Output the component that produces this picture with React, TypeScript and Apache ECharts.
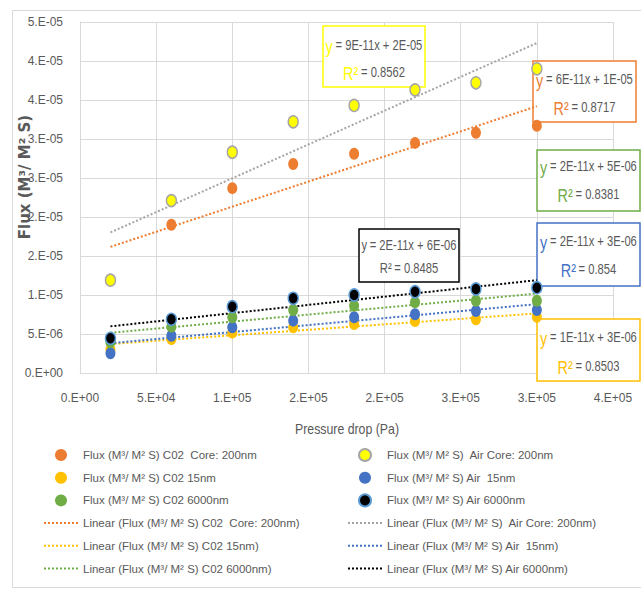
import React, { useEffect, useRef } from "react";
import * as echarts from "echarts";

const FONT = "'Liberation Sans', sans-serif";
const GRAY = "#595959";

const pressure = [20000, 60000, 100000, 140000, 180000, 220000, 260000, 300000];
const co2Core200 = [1.19e-5, 1.9e-5, 2.37e-5, 2.68e-5, 2.81e-5, 2.95e-5, 3.08e-5, 3.17e-5];
const airCore200 = [1.19e-5, 2.21e-5, 2.83e-5, 3.22e-5, 3.43e-5, 3.63e-5, 3.72e-5, 3.9e-5];
const co2_15 = [3.0e-6, 4.36e-6, 5.17e-6, 5.86e-6, 6.28e-6, 6.67e-6, 6.88e-6, 7.22e-6];
const air_15 = [2.53e-6, 4.78e-6, 5.86e-6, 6.71e-6, 7.14e-6, 7.53e-6, 7.95e-6, 8.08e-6];
const co2_6000 = [3.94e-6, 5.94e-6, 7.14e-6, 8.08e-6, 8.63e-6, 9.06e-6, 9.27e-6, 9.27e-6];
const air_6000 = [4.45e-6, 6.88e-6, 8.5e-6, 9.58e-6, 1.0e-5, 1.042e-5, 1.077e-5, 1.094e-5];

const xTickLabels = ["0.E+00", "5.E+04", "1.E+05", "2.E+05", "2.E+05", "3.E+05", "3.E+05", "4.E+05"];
const yTickLabels = ["0.E+00", "5.E-06", "1.E-05", "2.E-05", "2.E-05", "3.E-05", "3.E-05", "4.E-05", "4.E-05", "5.E-05"];

const seriesNames = [
  "Flux (M³/ M² S) C02  Core: 200nm",
  "Flux (M³/ M² S)  Air Core: 200nm",
  "Flux (M³/ M² S) C02 15nm",
  "Flux (M³/ M² S) Air  15nm",
  "Flux (M³/ M² S) C02 6000nm",
  "Flux (M³/ M² S) Air 6000nm",
];
const seriesValues = [co2Core200, airCore200, co2_15, air_15, co2_6000, air_6000];
const pointColors = ["#ED7D31", "#FFFF00", "#FFC000", "#4472C4", "#70AD47", "#000000"];
const pointBorders = ["none", "#A5A5A5", "none", "none", "none", "#5B9BD5"];
const trendColors = ["#ED7D31", "#A5A5A5", "#FFC000", "#4472C4", "#70AD47", "#000000"];

const equations = [
  { eq: "= 6E-11x + 1E-05", r2: "= 0.8717", color: "#ED7D31", border: "#ED7D31" },
  { eq: "= 9E-11x + 2E-05", r2: "= 0.8562", color: "#FFFF00", border: "#FFFF00" },
  { eq: "= 1E-11x + 3E-06", r2: "= 0.8503", color: "#FFC000", border: "#FFC000" },
  { eq: "= 2E-11x + 3E-06", r2: "= 0.854", color: "#4472C4", border: "#4472C4" },
  { eq: "= 2E-11x + 5E-06", r2: "= 0.8381", color: "#70AD47", border: "#70AD47" },
  { eq: "= 2E-11x + 6E-06", r2: "= 0.8485", color: GRAY, border: "#000000" },
];

function fit(xs: number[], ys: number[]) {
  const n = xs.length;
  const mx = xs.reduce((a, b) => a + b, 0) / n;
  const my = ys.reduce((a, b) => a + b, 0) / n;
  let sxy = 0, sxx = 0;
  for (let i = 0; i < n; i++) {
    sxy += (xs[i] - mx) * (ys[i] - my);
    sxx += (xs[i] - mx) * (xs[i] - mx);
  }
  const b = sxy / sxx;
  return { a: my - b * mx, b };
}

export default function App() {
  const ref = useRef<HTMLDivElement>(null);
  useEffect(() => {
    if (!ref.current) return;
    const chart = echarts.init(ref.current, undefined, { renderer: "svg" });

    const scatterSeries = seriesNames.map((name, i) => ({
      name,
      type: "scatter",
      data: pressure.map((x, j) => [x, seriesValues[i][j]]),
      symbol: "circle",
      symbolSize: [10, 12],
      itemStyle: {
        color: pointColors[i],
        opacity: 1,
        borderColor: pointBorders[i] === "none" ? undefined : pointBorders[i],
        borderWidth: pointBorders[i] === "none" ? 0 : 1.5,
      },
      z: 3,
    }));

    const trendSeries = seriesNames.map((name, i) => {
      const { a, b } = fit(pressure, seriesValues[i]);
      const x0 = pressure[0];
      const x1 = pressure[pressure.length - 1];
      return {
        name: `Linear (${name})`,
        type: "line",
        data: [
          [x0, a + b * x0],
          [x1, a + b * x1],
        ],
        symbol: "none",
        showSymbol: false,
        lineStyle: { color: trendColors[i], width: 2, type: [2, 2] },
        itemStyle: { color: trendColors[i], opacity: 0 },
        z: 2,
      };
    });

    const boxes = [
      { x: 533, y: 61, w: 103, h: 61, l1: 80, l2: 108 },
      { x: 323, y: 26, w: 102, h: 61, l1: 46, l2: 73 },
      { x: 537, y: 319, w: 103, h: 62, l1: 338, l2: 367 },
      { x: 537, y: 223, w: 103, h: 63, l1: 242, l2: 270 },
      { x: 537, y: 150, w: 103, h: 61, l1: 167, l2: 195 },
      { x: 359, y: 229, w: 100, h: 53, l1: 246, l2: 269 },
    ];

    const graphics: any[] = [
      {
        type: "rect",
        shape: { x: 12.5, y: 10.5, width: 640, height: 577 },
        style: { fill: "none", stroke: "#D9D9D9", lineWidth: 1 },
        z: 0,
      },
      {
        type: "text",
        x: 25,
        y: 177,
        rotation: Math.PI / 2,
        style: {
          text: "Flux (M³/ M² S)",
          fill: GRAY,
          fontSize: 15,
          fontWeight: "bold",
          fontFamily: "'DejaVu Sans', sans-serif",
          align: "center",
          verticalAlign: "middle",
        },
      },
      {
        type: "text",
        x: 347,
        y: 429,
        scaleX: 0.88,
        style: {
          text: "Pressure drop (Pa)",
          fill: GRAY,
          fontSize: 14,
          fontFamily: FONT,
          align: "center",
          verticalAlign: "middle",
        },
      },
    ];

    boxes.forEach((bx, i) => {
      const e = equations[i];
      const big = i === 5 ? 14 : 18;
      graphics.push({
        type: "rect",
        shape: { x: bx.x, y: bx.y, width: bx.w, height: bx.h },
        style: { fill: "#FFFFFF", stroke: e.border, lineWidth: 1.5 },
        z: 1,
      });
      [
        { t: `{c|y} {t|${e.eq}}`, y: bx.l1 },
        { t: `{c|R²} {t|${e.r2}}`, y: bx.l2 },
      ].forEach((ln) => {
        graphics.push({
          type: "text",
          x: bx.x + bx.w / 2,
          y: ln.y,
          scaleX: 0.8,
          z: 1,
          style: {
            text: ln.t,
            align: "center",
            verticalAlign: "middle",
            rich: {
              c: { fill: e.color, fontSize: big, fontFamily: FONT },
              t: { fill: GRAY, fontSize: 14, fontFamily: FONT },
            },
          },
        });
      });
    });

    const legendCommon = {
      orient: "vertical",
      top: 443,
      itemWidth: 34,
      itemHeight: 12,
      itemGap: 8.7,
      textStyle: { color: GRAY, fontSize: 11.5, fontFamily: FONT, lineHeight: 14 },
      selectedMode: false,
    };

    const leftIdx = [0, 2, 4];
    const rightIdx = [1, 3, 5];

    chart.setOption({
      animation: false,
      backgroundColor: "#FFFFFF",
      grid: { left: 80, right: 28, top: 22, bottom: 217 },
      xAxis: {
        type: "value",
        min: 0,
        max: 350000,
        interval: 50000,
        axisLine: { show: true, lineStyle: { color: "#D9D9D9", width: 1 } },
        axisTick: { show: false },
        splitLine: { show: true, lineStyle: { color: "#D9D9D9", width: 1 } },
        axisLabel: {
          color: GRAY,
          fontSize: 12,
          fontFamily: FONT,
          margin: 19,
          formatter: (v: number) => xTickLabels[Math.round(v / 50000)] ?? "",
        },
      },
      yAxis: {
        type: "value",
        min: 0,
        max: 4.5e-5,
        interval: 5e-6,
        axisLine: { show: true, lineStyle: { color: "#D9D9D9", width: 1 } },
        axisTick: { show: false },
        splitLine: { show: true, lineStyle: { color: "#D9D9D9", width: 1 } },
        axisLabel: {
          color: GRAY,
          fontSize: 12,
          fontFamily: FONT,
          margin: 17,
          formatter: (v: number) => yTickLabels[Math.round(v / 5e-6)] ?? "",
        },
      },
      legend: [
        {
          ...legendCommon,
          left: 38,
          data: [
            ...leftIdx.map((i) => seriesNames[i]),
            ...leftIdx.map((i) => `Linear (${seriesNames[i]})`),
          ],
        },
        {
          ...legendCommon,
          left: 342,
          data: [
            ...rightIdx.map((i) => seriesNames[i]),
            ...rightIdx.map((i) => `Linear (${seriesNames[i]})`),
          ],
        },
      ],
      graphic: graphics,
      series: [...trendSeries, ...scatterSeries],
    });

    return () => chart.dispose();
  }, []);

  return (
    <div
      ref={ref}
      style={{ position: "fixed", left: 0, top: 0, width: 641, height: 590, background: "#fff" }}
    />
  );
}
